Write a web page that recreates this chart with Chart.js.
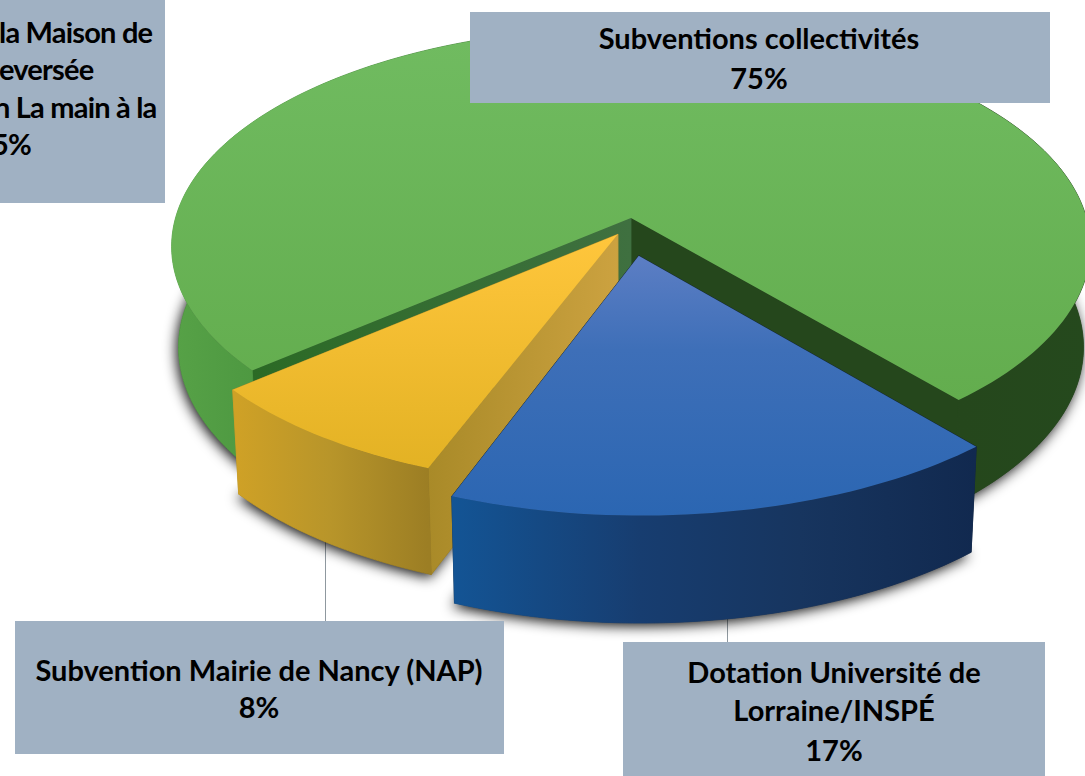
<!DOCTYPE html>
<html><head><meta charset="utf-8">
<script src="https://cdn.jsdelivr.net/npm/chart.js@4"></script>
<style>
html,body{margin:0;padding:0;background:#fff;width:1085px;height:776px;overflow:hidden}
#w{position:relative;width:1085px;height:776px;overflow:hidden}
canvas{position:absolute;left:0;top:0}
.box{position:absolute;background:#a0b1c3}
.t{position:absolute;white-space:nowrap;font:700 29px Lato,sans-serif;color:#000;line-height:30px;transform:translateX(-50%)}
.l{position:absolute;width:1px;background:#8f989f}
</style></head><body><div id="w">
<div class="l" style="left:325px;top:530px;height:92px"></div>
<div class="l" style="left:727px;top:610px;height:33px"></div>
<canvas id="c" width="1085" height="776"></canvas>
<div class="box" style="left:-1px;top:-1px;width:166px;height:204px"></div>
<div class="box" style="left:470px;top:12px;width:580px;height:91px"></div>
<div class="box" style="left:15px;top:621px;width:489px;height:133px"></div>
<div class="box" style="left:623px;top:642px;width:422px;height:134px"></div>
</div>
<script>
const categories = ["Subventions collectivités", "Dotation Université de Lorraine/INSPÉ", "Subvention Mairie de Nancy (NAP)"];
const values = [75, 17, 8];
const croppedLines = ["la Maison de", "eversée", "n La main à la", "5%"];

const view = {cx:631, cy:218, s:.473, k:.13, R:455.5, taper:.985};
const shades = [
 {dx:0, top:[[40,'#70bb60'],[400,'#63ad4e']], wall:[[170,'#57a247'],[240,'#4f9a42'],[640,'#35702c'],[960,'#25471c'],[1090,'#25491d']], start:['#2b6a25','#3f7040'], end:'#25471c'},
 {dx:-6, top:[[256,'#5c7ec4'],[350,'#3e6fb8'],[515,'#2b66b2']], wall:[[446,'#135596'],[640,'#173d70'],[800,'#17355f'],[975,'#11294f']], start:'#123', end:'#123'},
 {dx:11, top:[[235,'#ffc63c'],[467,'#e3b224']], wall:[[236,'#cfa126'],[330,'#b8952a'],[428,'#9c7e24']], start:['#a98a28','#cca240'], end:'#a98a28'}
];
const order = [0, 2, 1];

const pie3d = {
 id:'pie3d',
 beforeDatasetsDraw(chart){
  const ctx = chart.ctx, arcs = chart.getDatasetMeta(0).data, V = view;
  const proj = (a, r, th) => {
    const off = (a.options.offset||0)/a.outerRadius, mid = (a.startAngle+a.endAngle)/2;
    const u = r*Math.cos(th)+off*Math.cos(mid), v = r*Math.sin(th)+off*Math.sin(mid), w = 1-V.k*v;
    return [V.cx+V.R*u/w+shades[arcs.indexOf(a)].dx, V.cy+V.R*V.s*v/w];
  };
  const low = p => [V.cx+(p[0]-V.cx)*V.taper, p[1]+100+(p[1]-218)*.025];
  const rim = a => { const n=Math.ceil((a.endAngle-a.startAngle)*40), o=[];
    for(let i=0;i<=n;i++) o.push(proj(a,1,a.startAngle+(a.endAngle-a.startAngle)*i/n)); return o; };
  const fillPath = (pts,style,seal) => { ctx.beginPath(); pts.forEach((p,i)=>i?ctx.lineTo(p[0],p[1]):ctx.moveTo(p[0],p[1])); ctx.closePath(); ctx.fillStyle=style; ctx.fill();
    if(seal){ctx.strokeStyle=style;ctx.lineWidth=.8;ctx.stroke();} };
  const stopGrad = (stops,vertical) => { const from=stops[0][0], to=stops[stops.length-1][0];
    const g = vertical?ctx.createLinearGradient(0,from,0,to):ctx.createLinearGradient(from,0,to,0);
    stops.forEach(s=>g.addColorStop((s[0]-from)/(to-from),s[1])); return g; };
  const edge = (a,th,c) => { const o=proj(a,0,th), e=proj(a,1,th);
    const st = Array.isArray(c)? (()=>{const g=ctx.createLinearGradient(e[0],0,o[0],0);g.addColorStop(0,c[0]);g.addColorStop(1,c[1]);return g;})():c;
    fillPath([o,e,low(e),low(o)],st,true); };
  ctx.save();
  ctx.shadowColor='rgba(0,0,0,.95)'; ctx.shadowBlur=13; ctx.shadowOffsetY=3; ctx.shadowOffsetX=-2;
  order.forEach(i=>{ const a=arcs[i]; fillPath([low(proj(a,0,a.startAngle))].concat(rim(a).map(low)),'#333'); });
  ctx.restore();
  order.forEach(i=>{
    const a=arcs[i], sh=shades[i], r=rim(a);
    edge(a,a.endAngle,sh.end); edge(a,a.startAngle,sh.start);
    fillPath(r.concat(r.map(low).reverse()),stopGrad(sh.wall,false),true);
    fillPath([proj(a,0,a.startAngle)].concat(r),stopGrad(sh.top,true));
  });
  return false;
 }
};

new Chart(document.getElementById('c'),{
 type:'pie',
 data:{labels:categories,datasets:[{data:values,backgroundColor:['#69b556','#2f68b4','#f0b828'],offset:[0,59,31],borderWidth:0}]},
 options:{responsive:false,animation:false,rotation:229.6,radius:340,
  plugins:{legend:{display:false},tooltip:{enabled:false}},events:[]},
 plugins:[pie3d]
});

const W=document.getElementById('w');
const put=(txt,x,y,left)=>{const d=document.createElement('div');d.className='t';d.textContent=txt;d.style.left=x+'px';d.style.top=(y-15)+'px';if(left){d.style.transform='none';d.style.letterSpacing='-.8px';}W.appendChild(d);};
put(categories[0],759,38); put(values[0]+'%',759,78);
put(categories[2],259,670); put(values[2]+'%',259,707);
put('Dotation Université de',834,672); put('Lorraine/INSPÉ',834,710); put(values[1]+'%',834,750);
[[-1,32],[-1,69],[-6,107],[-8,144]].forEach((p,i)=>put(croppedLines[i],p[0],p[1],true));
</script></body></html>
